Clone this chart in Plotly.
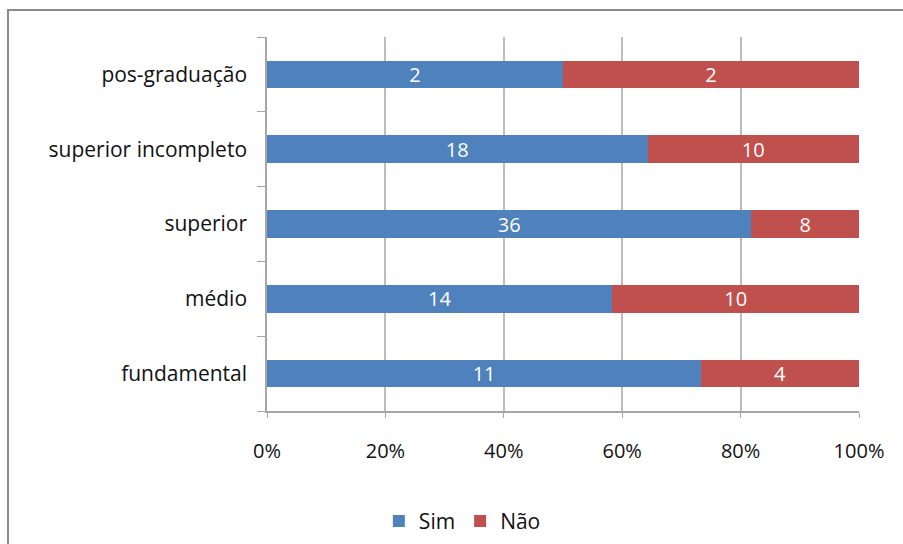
import plotly.graph_objects as go

# Escolaridade (de baixo para cima) e respostas
categorias = ["fundamental", "médio", "superior", "superior incompleto", "pos-graduação"]
sim = [11, 14, 36, 18, 2]
nao = [4, 10, 8, 10, 2]
x_ticks = [0, 20, 40, 60, 80, 100]
x_labels = [f"{v}%" for v in x_ticks]

FONT = "Open Sans, Noto Sans, sans-serif"

fig = go.Figure()
fig.add_trace(go.Bar(
    y=categorias, x=sim, name="Sim", orientation="h",
    marker=dict(color="#4F81BD", line=dict(width=0)),
    text=[str(v) for v in sim], textposition="inside", insidetextanchor="middle",
    textangle=0, constraintext="none",
    textfont=dict(color="white", size=20, family=FONT),
))
fig.add_trace(go.Bar(
    y=categorias, x=nao, name="Não", orientation="h",
    marker=dict(color="#C0504D", line=dict(width=0)),
    text=[str(v) for v in nao], textposition="inside", insidetextanchor="middle",
    textangle=0, constraintext="none",
    textfont=dict(color="white", size=20, family=FONT),
))

fig.update_layout(
    width=903, height=544,
    barmode="stack", barnorm="percent", bargap=0.63,
    plot_bgcolor="white", paper_bgcolor="white",
    margin=dict(l=267, r=44, t=37, b=133, autoexpand=False),
    font=dict(family=FONT, color="#111111"),
    legend=dict(
        orientation="h", x=0.33, xanchor="center", y=-0.295, yanchor="middle",
        font=dict(size=21, color="#111111", family=FONT),
        traceorder="normal", itemwidth=30,
    ),
    shapes=[dict(
        type="rect", xref="paper", yref="paper",
        x0=-0.4375, x1=1.3, y0=-0.6, y1=1.072,
        line=dict(color="#8A8A8A", width=2), fillcolor="rgba(0,0,0,0)", layer="below",
    )],
)

fig.update_xaxes(
    range=[0, 100], tickmode="array", tickvals=x_ticks, ticktext=x_labels,
    showgrid=True, gridcolor="#BDBDBD", gridwidth=1.5,
    showline=True, linecolor="#A6A6A6", linewidth=1.5,
    ticks="outside", ticklen=5, tickcolor="#A6A6A6",
    tickfont=dict(size=20, color="#111111", family=FONT),
    ticklabelstandoff=16, zeroline=False, automargin=False,
)
fig.update_yaxes(
    categoryorder="array", categoryarray=categorias,
    showline=True, linecolor="#A6A6A6", linewidth=1.5,
    ticks="outside", ticklen=8, tickcolor="#A6A6A6", tickson="boundaries",
    tickfont=dict(size=21, color="#111111", family=FONT),
    ticklabelstandoff=14, showgrid=False, automargin=False,
)

fig.write_html("out.html")
